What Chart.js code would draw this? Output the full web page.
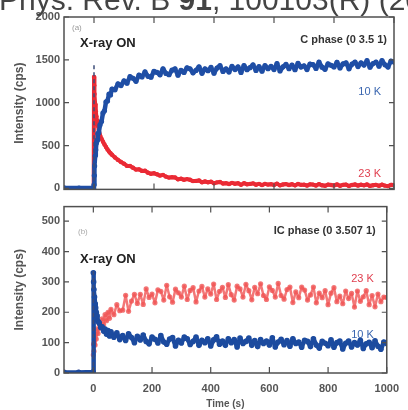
<!DOCTYPE html>
<html>
<head>
<meta charset="utf-8">
<script src="https://cdn.jsdelivr.net/npm/chart.js@4"></script>
<style>
  html, body { margin: 0; padding: 0; background: #fff; }
  #wrap { position: relative; width: 408px; height: 410px; overflow: hidden; }
  #journal { position: absolute; left: -1px; top: -15px; font: 30px "Liberation Sans", Arial, sans-serif; line-height: 30px; color: #444; white-space: nowrap; z-index: 2; }
  #chartTop { position: absolute; left: 0; top: 0; }
  #chartBottom { position: absolute; left: 0; top: 196px; }
</style>
</head>
<body>
<div id="wrap">
  <div id="journal">Phys. Rev. B <b>91</b>, 100103(R) (2015)</div>
  <canvas id="chartTop" width="408" height="200"></canvas>
  <canvas id="chartBottom" width="408" height="214"></canvas>
</div>
<script>
Chart.defaults.animation = false;
Chart.defaults.font.family = '"Liberation Sans", Arial, sans-serif';

// time axis (s)
const timeS = [-100, -50, -1, 0, 1, 2, 4, 6, 8, 10, 13, 16, 20, 25, 30, 35, 40, 45, 50, 55, 60, 70, 80, 90,
  100, 110, 120, 130, 140, 150, 160, 170, 180, 190,
  200, 210, 220, 230, 240, 250, 260, 270, 280, 290,
  300, 310, 320, 330, 340, 350, 360, 370, 380, 390,
  400, 410, 420, 430, 440, 450, 460, 470, 480, 490,
  500, 510, 520, 530, 540, 550, 560, 570, 580, 590,
  600, 610, 620, 630, 640, 650, 660, 670, 680, 690,
  700, 710, 720, 730, 740, 750, 760, 770, 780, 790,
  800, 810, 820, 830, 840, 850, 860, 870, 880, 890,
  900, 910, 920, 930, 940, 950, 960, 970, 980, 990,
  1000];

// (a) C phase, intensity (cps)
const cPhase10K = [5, 3, 4, 40, 150, 260, 380, 450, 530, 560, 640, 650, 740, 780, 880, 905, 1010, 1020, 1100, 1090, 1160, 1150, 1220, 1200,
  1254, 1228, 1304, 1285, 1249, 1323, 1301, 1359, 1308, 1297,
  1367, 1353, 1325, 1396, 1341, 1326, 1379, 1395, 1321, 1377,
  1352, 1408, 1396, 1348, 1376, 1419, 1343, 1395, 1373, 1411,
  1344, 1404, 1432, 1364, 1395, 1358, 1423, 1387, 1418, 1352,
  1434, 1385, 1409, 1442, 1376, 1421, 1368, 1432, 1397, 1423,
  1387, 1456, 1371, 1418, 1446, 1397, 1439, 1385, 1459, 1416,
  1431, 1387, 1451, 1444, 1400, 1473, 1415, 1389, 1454, 1437,
  1417, 1472, 1405, 1452, 1466, 1395, 1450, 1474, 1421, 1464,
  1439, 1490, 1414, 1456, 1475, 1426, 1490, 1442, 1416, 1486,
  1474];
const cPhase23K = [2, 3, 2, 1300, 1200, 1100, 980, 900, 840, 790, 730, 680, 620, 580, 545, 512, 482, 455, 430, 410, 392, 360, 332, 308,
  288, 262, 262, 241, 219, 222, 204, 205, 183, 170,
  176, 164, 149, 157, 137, 126, 131, 128, 105, 112,
  101, 108, 100, 85, 87, 92, 72, 80, 72, 77,
  59, 70, 74, 57, 61, 51, 64, 54, 59, 43,
  60, 48, 52, 58, 43, 52, 39, 53, 44, 49,
  40, 55, 35, 45, 50, 39, 48, 35, 51, 41,
  43, 33, 47, 44, 34, 50, 36, 30, 44, 40,
  34, 46, 31, 41, 44, 28, 40, 45, 33, 42,
  35, 46, 29, 37, 41, 30, 44, 32, 26, 41,
  38];

// (b) IC phase, intensity (cps)
const icPhase10K = [2, 2, 3, 330, 300, 275, 250, 228, 215, 200, 188, 170, 165, 150, 152, 138, 145, 128, 140, 122, 136, 118, 132, 110,
  123, 107, 129, 117, 100, 121, 109, 125, 104, 96,
  118, 111, 99, 123, 102, 95, 112, 117, 89, 108,
  99, 118, 113, 94, 104, 118, 91, 108, 100, 113,
  89, 109, 119, 95, 105, 91, 113, 100, 110, 86,
  115, 97, 104, 115, 91, 107, 87, 110, 97, 105,
  92, 116, 86, 102, 111, 93, 107, 88, 113, 97,
  102, 85, 108, 104, 87, 113, 92, 82, 104, 98,
  90, 109, 85, 100, 105, 79, 98, 105, 86, 100,
  92, 108, 81, 96, 101, 83, 106, 88, 78, 102,
  97];
const icPhase23K = [3, 2, 4, 60, 95, 72, 110, 92, 128, 112, 145, 130, 162, 148, 178, 160, 192, 172, 200, 180, 210, 192, 225, 205,
  207, 256, 203, 237, 259, 229, 259, 226, 277, 249,
  260, 231, 274, 269, 240, 289, 251, 233, 276, 264,
  250, 286, 242, 272, 281, 234, 270, 285, 250, 277,
  260, 293, 242, 269, 282, 249, 291, 258, 240, 286,
  277, 250, 292, 271, 241, 282, 261, 294, 255, 242,
  284, 272, 250, 295, 255, 243, 275, 283, 232, 267,
  248, 283, 273, 240, 257, 283, 231, 263, 248, 271,
  225, 263, 281, 235, 253, 228, 270, 245, 262, 217,
  270, 236, 251, 271, 225, 255, 218, 260, 235, 250,
  249];

// "X-ray ON" marker at t = 0
const xrayT = [0, 0];
const xrayTopY = [0, 1450];
const xrayBottomY = [0, 340];

// tick labels
const timeTicks = [0, 200, 400, 600, 800, 1000];
const topYTicks = [0, 500, 1000, 1500, 2000];
const bottomYTicks = [0, 100, 200, 300, 400, 500];

const pts = (xs, ys) => xs.map((x, i) => ({ x: x, y: ys[i] }));

const tickFont = { size: 11, weight: 'bold' };
const tickColor = '#555';

function makeFrame(labels) {
  return {
    id: 'frame',
    afterDatasetsDraw(chart) {
      const { ctx, chartArea: a, scales } = chart;
      ctx.save();
      ctx.strokeStyle = '#505050';
      ctx.lineWidth = 1.5;
      ctx.strokeRect(a.left, a.top, a.right - a.left, a.bottom - a.top);
      ctx.lineWidth = 1.2;
      ctx.beginPath();
      scales.x.ticks.forEach(t => {
        const px = scales.x.getPixelForValue(t.value);
        ctx.moveTo(px, a.top); ctx.lineTo(px, a.top + 6);
        ctx.moveTo(px, a.bottom); ctx.lineTo(px, a.bottom - 6);
      });
      scales.y.ticks.forEach(t => {
        const py = scales.y.getPixelForValue(t.value);
        ctx.moveTo(a.left, py); ctx.lineTo(a.left + 5, py);
        ctx.moveTo(a.right, py); ctx.lineTo(a.right - 5, py);
      });
      ctx.stroke();
      ctx.textBaseline = 'middle';
      labels.forEach(l => {
        ctx.font = (l.bold ? 'bold ' : '') + l.size + 'px "Liberation Sans", Arial, sans-serif';
        ctx.fillStyle = l.color;
        if (l.right !== undefined) {
          ctx.textAlign = 'right';
          ctx.fillText(l.text, a.right - l.right, a.top + l.dy);
        } else {
          ctx.textAlign = 'left';
          ctx.fillText(l.text, a.left + l.dx, a.top + l.dy);
        }
      });
      ctx.restore();
    }
  };
}

function yAxis(min, max, ticks) {
  return {
    type: 'linear', min: min, max: max,
    afterBuildTicks: s => { s.ticks = ticks.map(v => ({ value: v })); },
    afterFit: s => { s.width = 64; },
    grid: { display: false, drawTicks: false },
    border: { display: false },
    ticks: { font: tickFont, color: tickColor, padding: 4, callback: v => String(v) },
    title: { display: true, text: 'Intensity (cps)', font: { size: 12, weight: 'bold' }, color: '#555', padding: { top: 12, bottom: 0 } }
  };
}

// noisy series: thin line plus dots so the band looks scattered
function series(ys, color, width, dot) {
  return {
    data: pts(timeS, ys), borderColor: color, borderWidth: width,
    pointRadius: dot, pointBackgroundColor: color, pointBorderWidth: 0
  };
}

// top panel
new Chart(document.getElementById('chartTop'), {
  type: 'line',
  data: {
    datasets: [
      { data: pts(xrayT, xrayTopY), borderColor: '#3c4c78', borderWidth: 1.5, borderDash: [4, 3], pointRadius: 0, order: 0 },
      Object.assign(series(cPhase10K, '#1f4ea5', 4.5, 2.6), { order: 1 }),
      Object.assign(series(cPhase23K, '#ea2a35', 4, 2.2), { order: 2 })
    ]
  },
  options: {
    responsive: false,
    animation: false,
    parsing: false,
    elements: { line: { tension: 0, borderJoinStyle: 'round' } },
    layout: { padding: { left: 0, right: 14, top: 17, bottom: 8 } },
    plugins: { legend: { display: false }, tooltip: { enabled: false } },
    scales: {
      x: {
        type: 'linear', min: -100, max: 1000,
        afterBuildTicks: s => { s.ticks = timeTicks.map(v => ({ value: v })); },
        afterFit: s => { s.height = 0; },
        grid: { display: false, drawTicks: false },
        border: { display: false },
        ticks: { display: false }
      },
      y: yAxis(-12, 2000, topYTicks)
    }
  },
  plugins: [makeFrame([
    { text: '(a)', dx: 8, dy: 11, size: 8, color: '#999' },
    { text: 'X-ray ON', dx: 16, dy: 26, size: 13, bold: true, color: '#222' },
    { text: 'C phase (0 3.5 1)', right: 7, dy: 23, size: 11, bold: true, color: '#333' },
    { text: '10 K', right: 13, dy: 75, size: 11, color: '#3a66b0' },
    { text: '23 K', right: 13, dy: 157, size: 11, color: '#e04050' }
  ])]
});

// bottom panel
new Chart(document.getElementById('chartBottom'), {
  type: 'line',
  data: {
    datasets: [
      { data: pts(xrayT, xrayBottomY), borderColor: '#3c4c78', borderWidth: 1.5, borderDash: [4, 3], pointRadius: 0, order: 0 },
      Object.assign(series(icPhase10K, '#1c4b9f', 4.5, 2.8), { order: 1 }),
      Object.assign(series(icPhase23K, 'rgba(240,85,85,0.8)', 2.5, 2.6), { order: 2 })
    ]
  },
  options: {
    responsive: false,
    animation: false,
    parsing: false,
    elements: { line: { tension: 0, borderJoinStyle: 'round' } },
    layout: { padding: { left: 0, right: 14, top: 4, bottom: 0 } },
    plugins: { legend: { display: false }, tooltip: { enabled: false } },
    scales: {
      x: {
        type: 'linear', min: -100, max: 1000,
        afterBuildTicks: s => { s.ticks = timeTicks.map(v => ({ value: v })); },
        afterFit: s => { s.height = 37; },
        grid: { display: false, drawTicks: false },
        border: { display: false },
        ticks: { font: tickFont, color: tickColor, padding: 9, maxRotation: 0, callback: v => String(v) },
        title: { display: true, text: 'Time (s)', font: { size: 10, weight: 'bold' }, color: '#555', padding: { top: 0, bottom: 0 } }
      },
      y: yAxis(0, 548, bottomYTicks)
    }
  },
  plugins: [makeFrame([
    { text: '(b)', dx: 14, dy: 25, size: 8, color: '#aaa' },
    { text: 'X-ray ON', dx: 16, dy: 53, size: 13, bold: true, color: '#222' },
    { text: 'IC phase (0 3.507 1)', right: 11, dy: 24, size: 11, bold: true, color: '#333' },
    { text: '23 K', right: 13, dy: 72, size: 11, color: '#e04050' },
    { text: '10 K', right: 13, dy: 128, size: 11, color: '#3a66b0' }
  ])]
});
</script>
</body>
</html>
